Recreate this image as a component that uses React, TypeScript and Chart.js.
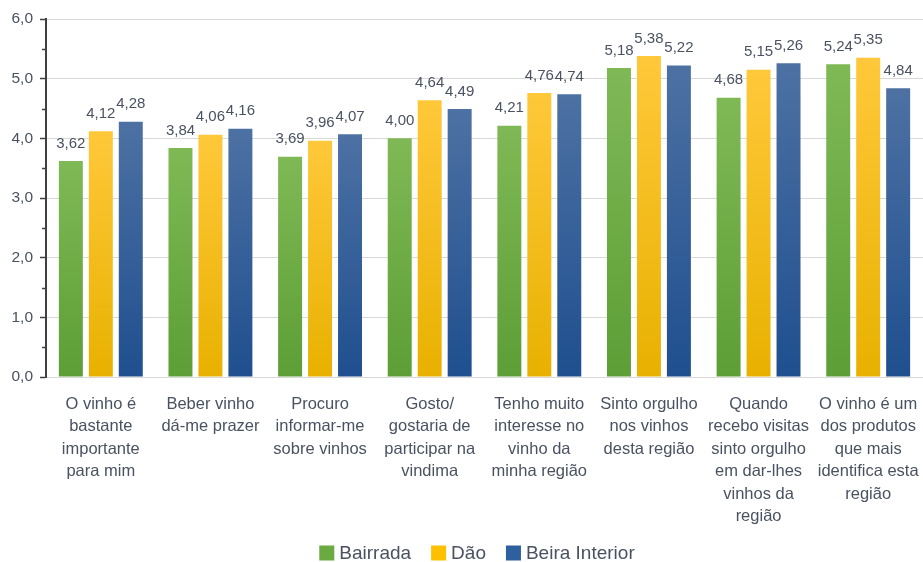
import React, { useEffect, useRef } from "react";
import { Chart, registerables } from "chart.js";

Chart.register(...registerables);

const categories: string[][] = [
  ["O vinho é", "bastante", "importante", "para mim"],
  ["Beber vinho", "dá-me prazer"],
  ["Procuro", "informar-me", "sobre vinhos"],
  ["Gosto/", "gostaria de", "participar na", "vindima"],
  ["Tenho muito", "interesse no", "vinho da", "minha região"],
  ["Sinto orgulho", "nos vinhos", "desta região"],
  ["Quando", "recebo visitas", "sinto orgulho", "em dar-lhes", "vinhos da", "região"],
  ["O vinho é um", "dos produtos", "que mais", "identifica esta", "região"],
];

const seriesNames = ["Bairrada", "Dão", "Beira Interior"];
const bairrada = [3.62, 3.84, 3.69, 4.0, 4.21, 5.18, 4.68, 5.24];
const dao = [4.12, 4.06, 3.96, 4.64, 4.76, 5.38, 5.15, 5.35];
const beiraInterior = [4.28, 4.16, 4.07, 4.49, 4.74, 5.22, 5.26, 4.84];

const yMin = 0;
const yMax = 6;

const TEXT = "#4a5261";
const FONT = "'Liberation Sans', Arial, sans-serif";

const colorStops: [string, string, string][] = [
  ["#7fb955", "#5d9e36", "#6aaa41"],
  ["#ffc83a", "#e8b100", "#ffc000"],
  ["#4d71a3", "#1f4f8f", "#2e5f9e"],
];

function gradientFor(idx: number) {
  return (ctx: any) => {
    const chart = ctx.chart;
    const area = chart.chartArea;
    const [top, bottom, solid] = colorStops[idx];
    if (!area || ctx.type !== "data") return solid;
    const yScale = chart.scales.y;
    const v = ctx.raw as number;
    const yTop = yScale ? yScale.getPixelForValue(v) : area.top;
    const g = chart.ctx.createLinearGradient(0, yTop, 0, area.bottom);
    g.addColorStop(0, top);
    g.addColorStop(1, bottom);
    return g;
  };
}

const fmt = (v: number) => v.toFixed(2).replace(".", ",");

const dataLabelPlugin = {
  id: "dataLabels",
  afterDatasetsDraw(chart: any) {
    const { ctx } = chart;
    ctx.save();
    ctx.font = `15px ${FONT}`;
    ctx.fillStyle = TEXT;
    ctx.textAlign = "center";
    ctx.textBaseline = "bottom";
    chart.data.datasets.forEach((ds: any, i: number) => {
      const meta = chart.getDatasetMeta(i);
      meta.data.forEach((el: any, j: number) => {
        ctx.fillText(fmt(ds.data[j]), el.x, el.y - 10);
      });
    });
    ctx.restore();
  },
};

const minorTickPlugin = {
  id: "minorTicks",
  afterDraw(chart: any) {
    const { ctx } = chart;
    const y = chart.scales.y;
    const left = chart.chartArea.left;
    ctx.save();
    ctx.strokeStyle = "#404040";
    ctx.lineWidth = 1.5;
    for (let v = 0.5; v < yMax; v += 1) {
      const py = Math.round(y.getPixelForValue(v)) + 0.5;
      ctx.beginPath();
      ctx.moveTo(left - 4, py);
      ctx.lineTo(left, py);
      ctx.stroke();
    }
    ctx.restore();
  },
};

const legendPlugin = {
  id: "customLegend",
  afterDraw(chart: any) {
    const { ctx } = chart;
    ctx.save();
    ctx.font = `19px ${FONT}`;
    const box = 15;
    const gapText = 5;
    const gapItem = 20;
    const widths = seriesNames.map((n) => box + gapText + ctx.measureText(n).width);
    const total = widths.reduce((a, b) => a + b, 0) + gapItem * (seriesNames.length - 1);
    let x = 477 - total / 2;
    const cy = 553;
    ctx.textBaseline = "middle";
    ctx.textAlign = "left";
    seriesNames.forEach((n, i) => {
      ctx.fillStyle = colorStops[i][2];
      ctx.fillRect(x, cy - box / 2, box, box);
      ctx.fillStyle = TEXT;
      ctx.fillText(n, x + box + gapText, cy + 1);
      x += widths[i] + gapItem;
    });
    ctx.restore();
  },
};

export default function App() {
  const ref = useRef<HTMLCanvasElement>(null);
  useEffect(() => {
    if (!ref.current) return;
    const series = [bairrada, dao, beiraInterior];
    const chart = new Chart(ref.current, {
      type: "bar",
      data: {
        labels: categories,
        datasets: series.map((d, i) => ({
          label: seriesNames[i],
          data: d,
          backgroundColor: gradientFor(i),
          borderWidth: 0,
          categoryPercentage: 0.82,
          barPercentage: 0.8,
        })),
      },
      options: {
        animation: false,
        responsive: false,
        maintainAspectRatio: false,
        layout: { padding: { top: 19, right: 0, left: 0, bottom: 0 } },
        plugins: {
          tooltip: { enabled: false },
          legend: { display: false },
        },
        scales: {
          x: {
            grid: { display: false, drawTicks: false },
            border: { display: false },
            ticks: {
              color: TEXT,
              font: { size: 16.5, family: FONT, lineHeight: 1.36 },
              padding: 16,
              maxRotation: 0,
              autoSkip: false,
            },
            afterFit: (s: any) => {
              s.height = 185;
              s.paddingLeft = 0;
              s.paddingRight = 0;
            },
          },
          y: {
            min: yMin,
            max: yMax,
            ticks: {
              stepSize: 1,
              color: TEXT,
              font: { size: 15.5, family: FONT },
              padding: 7,
              callback: (v: any) => Number(v).toFixed(1).replace(".", ","),
            },
            grid: {
              color: "#d9d9d9",
              lineWidth: 1,
              tickColor: "#404040",
              tickLength: 6,
              tickWidth: 1.5,
            },
            border: { display: true, color: "#404040", width: 2 },
            afterFit: (s: any) => {
              s.width = 46;
              s.paddingTop = 0;
              s.paddingBottom = 0;
            },
          },
        },
      },
      plugins: [dataLabelPlugin, minorTickPlugin, legendPlugin],
    });
    return () => chart.destroy();
  }, []);
  return (
    <div style={{ position: "fixed", left: 0, top: 0, width: 923, height: 562, background: "#fff" }}>
      <canvas ref={ref} width={923} height={562} />
    </div>
  );
}
